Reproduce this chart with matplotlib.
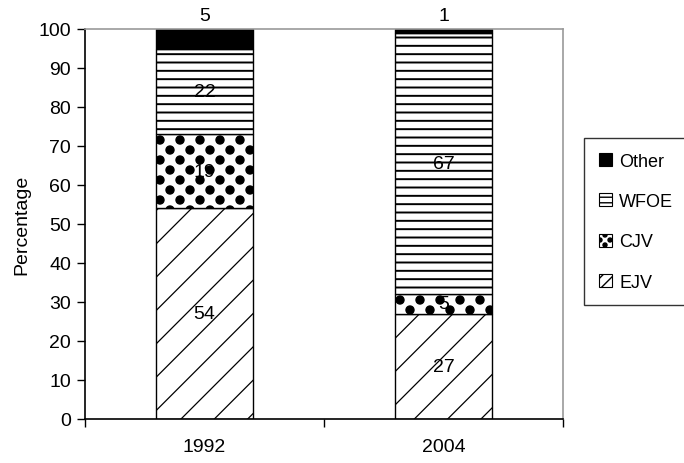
import numpy as np
import matplotlib
matplotlib.use("Agg")
import matplotlib.pyplot as plt
from matplotlib.patches import Patch
from matplotlib import hatch as mhatch

plt.rcParams['font.family'] = ['Liberation Sans', 'DejaVu Sans']


# '.' hatch redone as a 45 degree lattice of big filled dots, like Excel's
# dotted pattern: rows at half the column spacing.
class DiagDots(mhatch.SmallFilledCircles):
    size = 0.2

    def __init__(self, hatch, density):
        super().__init__(hatch, density)
        n = int(round(hatch.count('.') * density * 5 / 6))
        self.num_rows = n
        if n:
            self.num_shapes = (n + 1) * (n + 1) + n * n
            self.num_vertices = self.num_shapes * len(self.shape_vertices)
        else:
            self.num_shapes = 0
            self.num_vertices = 0

    def set_vertices_and_codes(self, vertices, codes):
        n = self.num_rows
        offset = 1.0 / n
        shape = self.shape_vertices * offset * self.size
        vparts, cparts = [], []
        for i, y in enumerate(np.linspace(0.0, 1.0, 2 * n + 1)):
            if i % 2 == 0:
                cols = np.linspace(0, 1, n + 1)
            else:
                cols = np.linspace(offset / 2, 1 - offset / 2, n)
            for cx in cols:
                vparts.append(shape + (cx, y))
                cparts.append(self.shape_codes)
        np.concatenate(vparts, out=vertices)
        np.concatenate(cparts, out=codes)


try:
    k = mhatch._hatch_types.index(mhatch.SmallFilledCircles)
    mhatch._hatch_types[k] = DiagDots
except Exception:
    mhatch.SmallFilledCircles.size = 0.25

years = ['1992', '2004']
series = ['EJV', 'CJV', 'WFOE', 'Other']
ejv = [54, 27]
cjv = [19, 5]
wfoe = [22, 67]
other = [5, 1]
values = [ejv, cjv, wfoe, other]

# hatch style + hatch line width for each series (Excel-ish patterns)
hatches = {'EJV': '/', 'CJV': '.', 'WFOE': '--', 'Other': ''}
hlw = {'EJV': 0.9, 'CJV': 1.0, 'WFOE': 1.4, 'Other': 1.0}
faces = {'EJV': 'white', 'CJV': 'white', 'WFOE': 'white', 'Other': 'black'}

fig = plt.figure(figsize=(6.84, 4.64), dpi=100)
ax = fig.add_axes([85/684, 44/464, 478/684, 390/464])

x = np.arange(len(years))
bottom = np.zeros(len(years))
for name, vals in zip(series, values):
    with plt.rc_context({'hatch.linewidth': hlw[name]}):
        bars = ax.bar(x, vals, width=0.41, bottom=bottom, color=faces[name],
                      edgecolor='black', linewidth=1.0, hatch=hatches[name], zorder=2)
    for b, v, b0 in zip(bars, vals, bottom):
        if name == 'Other':
            ax.text(b.get_x() + b.get_width()/2, 100 + 3.5, str(v), ha='center',
                    va='center', fontsize=14)
        else:
            ax.text(b.get_x() + b.get_width()/2, b0 + v/2, str(v), ha='center',
                    va='center', fontsize=14, zorder=3)
    bottom += np.array(vals)

ax.set_xlim(-0.5, 1.5)
ax.set_ylim(0, 100)
ax.set_yticks(np.arange(0, 101, 10))
ax.set_xticks(x)
ax.set_xticklabels(years)
ax.set_xticks([-0.5, 0.5, 1.5], minor=True)
ax.tick_params(axis='x', which='major', length=0, pad=14, labelsize=14)
ax.tick_params(axis='x', which='minor', length=6, width=1, direction='out')
ax.tick_params(axis='y', length=6, width=1, direction='out', labelsize=14, pad=4)
ax.set_ylabel('Percentage', fontsize=14, labelpad=6)

ax.spines['top'].set_color('#999999')
ax.spines['right'].set_color('#999999')
for s in ['top', 'right', 'left', 'bottom']:
    ax.spines[s].set_linewidth(1.2)

# legend swatches, drawn a bit denser so the pattern shows in a small box
leg_hatch = {'Other': '', 'WFOE': '---', 'CJV': '..', 'EJV': '///'}
handles = []
for name in ['Other', 'WFOE', 'CJV', 'EJV']:
    with plt.rc_context({'hatch.linewidth': 1.0}):
        handles.append(Patch(facecolor=faces[name], edgecolor='black', linewidth=0.8,
                             hatch=leg_hatch[name], label=name))
leg = fig.legend(handles=handles, loc='center left', bbox_to_anchor=(0.854, 0.52),
                 fontsize=13, frameon=True, fancybox=False, edgecolor='black',
                 handlelength=0.75, handleheight=0.75, handletextpad=0.4,
                 labelspacing=1.3, borderpad=0.8, borderaxespad=0)
leg.get_frame().set_linewidth(1.0)

fig.savefig('out.png', dpi=100)
